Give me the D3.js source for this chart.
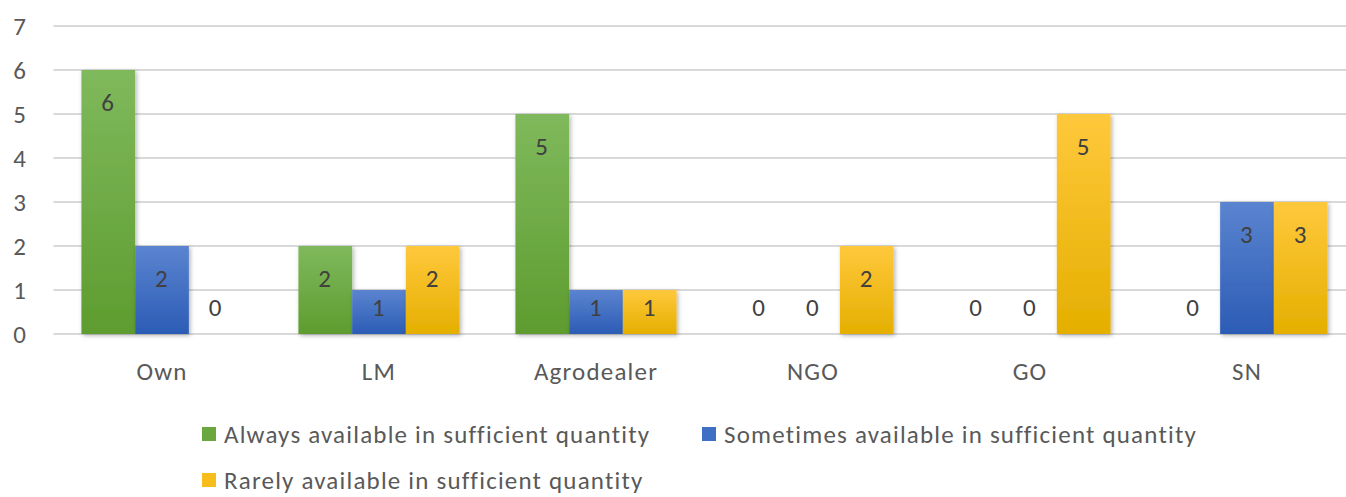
<!DOCTYPE html>
<html>
<head>
<meta charset="utf-8">
<script src="https://cdn.jsdelivr.net/npm/d3@7"></script>
<style>
  html, body { margin: 0; padding: 0; background: #fff; }
  svg { display: block; }
  text { font-family: Carlito, Lato, "Liberation Sans", sans-serif; letter-spacing: 1.2px; }
</style>
</head>
<body>
<svg id="chart" width="1346" height="497"></svg>
<script>
// Sources of inputs and how often they are available
const categories = ["Own", "LM", "Agrodealer", "NGO", "GO", "SN"];
const seriesNames = [
  "Always available in sufficient quantity",
  "Sometimes available in sufficient quantity",
  "Rarely available in sufficient quantity"
];
const alwaysValues    = [6, 2, 5, 0, 0, 0];
const sometimesValues = [2, 1, 1, 0, 0, 3];
const rarelyValues    = [0, 2, 1, 2, 5, 3];
const yTicks = [0, 1, 2, 3, 4, 5, 6, 7];

const seriesValues = [alwaysValues, sometimesValues, rarelyValues];
const gradients = [
  ["#7fb95c", "#5e9c2f"],
  ["#5b84d0", "#2c5cb5"],
  ["#ffc83c", "#e5af00"]
];
const legendColors = ["#6aa83f", "#3e6fc4", "#f7bd1a"];

const FONT = 25;
const svg = d3.select("#chart");
const W = 1346;
const plot = { left: 53.5, right: 1355.5, top: 26, bottom: 334 };

const x0 = d3.scaleBand().domain(categories).range([plot.left, plot.right]).padding(0);
const x1 = d3.scaleBand().domain(d3.range(3)).range([0, x0.bandwidth()]).paddingInner(0).paddingOuter(0.52);
const y = d3.scaleLinear().domain([0, 7]).range([plot.bottom, plot.top]);

// gradients and soft shadow
const defs = svg.append("defs");
gradients.forEach((g, i) => {
  const lg = defs.append("linearGradient").attr("id", "grad" + i)
    .attr("x1", 0).attr("y1", 0).attr("x2", 0).attr("y2", 1);
  lg.append("stop").attr("offset", "0%").attr("stop-color", g[0]);
  lg.append("stop").attr("offset", "100%").attr("stop-color", g[1]);
});
const f = defs.append("filter").attr("id", "shadow")
  .attr("x", "-20%").attr("y", "-20%").attr("width", "150%").attr("height", "150%");
f.append("feDropShadow").attr("dx", 1.5).attr("dy", 1.5).attr("stdDeviation", 2)
  .attr("flood-color", "#000").attr("flood-opacity", 0.3);

// gridlines
svg.append("g").selectAll("line").data(yTicks).join("line")
  .attr("x1", plot.left).attr("x2", W)
  .attr("y1", d => y(d)).attr("y2", d => y(d))
  .attr("stroke", "#d9d9d9").attr("stroke-width", 2);

// y axis labels
const yAxis = d3.axisLeft(y).tickValues(yTicks).tickSize(0).tickPadding(0).tickFormat(d3.format("d"));
const gy = svg.append("g").attr("transform", "translate(27,0)").call(yAxis);
gy.select(".domain").remove();
gy.selectAll("text").attr("font-size", FONT).attr("fill", "#595959")
  .style("font-family", "Carlito, Lato, 'Liberation Sans', sans-serif");

// x axis labels
const xAxis = d3.axisBottom(x0).tickSize(0).tickPadding(0);
const gx = svg.append("g").attr("transform", `translate(0,${plot.bottom + 37})`).call(xAxis);
gx.select(".domain").remove();
gx.selectAll("text").attr("font-size", FONT).attr("fill", "#595959").attr("dy", "0.35em")
  .style("font-family", "Carlito, Lato, 'Liberation Sans', sans-serif");

// bars
const rows = categories.map((c, ci) => ({ c, vals: seriesValues.map((s, si) => ({ si, v: s[ci] })) }));
const groups = svg.append("g").selectAll("g").data(rows).join("g")
  .attr("transform", d => `translate(${x0(d.c)},0)`);

groups.selectAll("rect").data(d => d.vals.filter(e => e.v > 0)).join("rect")
  .attr("x", e => x1(e.si))
  .attr("width", x1.bandwidth())
  .attr("y", e => y(e.v))
  .attr("height", e => y(0) - y(e.v))
  .attr("fill", e => `url(#grad${e.si})`)
  .attr("filter", "url(#shadow)");

// value labels at the inside end of each bar
groups.selectAll("text.val").data(d => d.vals).join("text")
  .attr("class", "val")
  .attr("x", e => x1(e.si) + x1.bandwidth() / 2)
  .attr("y", e => Math.min(y(e.v) + 32, y(0) - 27))
  .attr("dy", "0.35em")
  .attr("text-anchor", "middle")
  .attr("font-size", FONT)
  .attr("fill", "#404040")
  .text(e => e.v);

// legend
const legendPos = [[202, 427], [702, 427], [202, 473]];
const lg = svg.append("g").selectAll("g").data(seriesNames).join("g")
  .attr("transform", (d, i) => `translate(${legendPos[i][0]},${legendPos[i][1]})`);
lg.append("rect").attr("width", 14).attr("height", 14)
  .attr("fill", (d, i) => legendColors[i]);
lg.append("text").attr("x", 22).attr("y", 7).attr("dy", "0.35em")
  .attr("font-size", FONT).attr("fill", "#595959").text(d => d);
</script>
</body>
</html>
